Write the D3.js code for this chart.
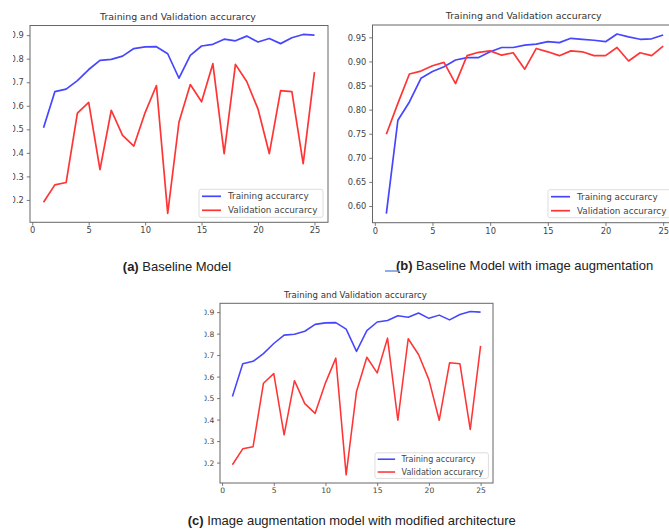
<!DOCTYPE html>
<html lang="en">
<head>
	<meta charset="UTF-8">
	<title>Training and Validation accurarcy</title>
	<script src="https://d3js.org/d3.v7.min.js"></script>
<style>
body { margin: 0; background: #fff; }
text { font-family: "DejaVu Sans", sans-serif; }
.caption { font-family: "Liberation Sans", Arial, sans-serif; fill: #222; }
</style>
</head>
<body>
<div id="divtest"></div>
<script>

// epochs 1..25
let epochs = d3.range(1, 26)

// baseline model (panel a, same figure reused in panel c)
let trainA = [0.507, 0.660, 0.671, 0.707, 0.754, 0.793, 0.797, 0.811, 0.843, 0.850,
              0.851, 0.821, 0.717, 0.814, 0.854, 0.861, 0.883, 0.876, 0.896, 0.871,
              0.886, 0.864, 0.889, 0.903, 0.900]
let valA = [0.190, 0.264, 0.274, 0.569, 0.614, 0.329, 0.581, 0.474, 0.429, 0.571,
            0.686, 0.143, 0.531, 0.690, 0.617, 0.779, 0.397, 0.776, 0.703, 0.586,
            0.397, 0.664, 0.660, 0.354, 0.743]

// baseline model with image augmentation (panel b)
let trainB = [0.584, 0.778, 0.816, 0.865, 0.879, 0.889, 0.903, 0.908, 0.908, 0.920,
              0.929, 0.929, 0.934, 0.936, 0.941, 0.939, 0.948, 0.946, 0.944, 0.941,
              0.957, 0.951, 0.946, 0.947, 0.955]
let valB = [0.749, 0.813, 0.874, 0.880, 0.891, 0.898, 0.854, 0.912, 0.919, 0.922,
            0.913, 0.918, 0.884, 0.927, 0.920, 0.912, 0.922, 0.920, 0.912, 0.912,
            0.929, 0.901, 0.918, 0.912, 0.932]

let xTicks = [0, 5, 10, 15, 20, 25]
let yTicksA = [0.2, 0.3, 0.4, 0.5, 0.6, 0.7, 0.8, 0.9]
let yTicksB = [0.60, 0.65, 0.70, 0.75, 0.80, 0.85, 0.90, 0.95]

let title = 'Training and Validation accurarcy'
let legendLabels = ['Training accurarcy', 'Validation accurarcy']
let captions = [
  ['(a)', ' Baseline Model'],
  ['(b)', ' Baseline Model with image augmentation'],
  ['(c)', ' Image augmentation model with modified architecture']
]

var blue = '#4646ff'
var red = '#ff3535'
var width = 669, height = 530

let svg = d3.select('#divtest').append('svg')
  .attr('width', width).attr('height', height)
  .style('display', 'block')

svg.append('rect').attr('width', width).attr('height', height).attr('fill', '#fff')

/**
* one matplotlib-like panel
*/
function drawPanel(p, id) {
  let s = p.scale
  let defs = svg.append('defs')
  defs.append('clipPath').attr('id', 'clip-' + id)
    .append('rect').attr('x', p.clipLeft).attr('y', 0).attr('width', width - p.clipLeft).attr('height', height)

  let g = svg.append('g').attr('clip-path', 'url(#clip-' + id + ')')

  // matplotlib autoscale: 5% margin
  let xExt = d3.extent(epochs)
  let xPad = (xExt[1] - xExt[0]) * 0.05
  let yExt = d3.extent(p.train.concat(p.val))
  let yPad = (yExt[1] - yExt[0]) * 0.05

  let x = d3.scaleLinear().domain([xExt[0] - xPad, xExt[1] + xPad]).range([p.left, p.right])
  let y = d3.scaleLinear().domain([yExt[0] - yPad, yExt[1] + yPad]).range([p.bottom, p.top])

  let line = d3.line()
    .x((d, i) => x(epochs[i]))
    .y(d => y(d))

  g.append('path').datum(p.train)
    .attr('fill', 'none').attr('stroke', blue).attr('stroke-width', 1.7 * s)
    .attr('stroke-linejoin', 'round').attr('d', line)
  g.append('path').datum(p.val)
    .attr('fill', 'none').attr('stroke', red).attr('stroke-width', 1.7 * s)
    .attr('stroke-linejoin', 'round').attr('d', line)

  // axes
  let fs = 8.3 * s
  let xAxis = g.append('g')
    .attr('transform', 'translate(0,' + p.bottom + ')')
    .call(d3.axisBottom(x).tickValues(xTicks).tickSize(3.2 * s).tickPadding(2 * s).tickFormat(d3.format('d')))
  let yAxis = g.append('g')
    .attr('transform', 'translate(' + p.left + ',0)')
    .call(d3.axisLeft(y).tickValues(p.yTicks).tickSize(3.2 * s).tickPadding(3 * s).tickFormat(d3.format(p.fmt)))
  ;[xAxis, yAxis].forEach(a => {
    a.select('.domain').remove()
    a.selectAll('line').attr('stroke', '#555').attr('stroke-width', 0.8)
    a.selectAll('text').attr('fill', '#444').style('font-size', fs + 'px')
      .style('font-family', '"DejaVu Sans", sans-serif')
  })

  // frame
  g.append('rect')
    .attr('x', p.left).attr('y', p.top)
    .attr('width', p.right - p.left).attr('height', p.bottom - p.top)
    .attr('fill', 'none').attr('stroke', '#666').attr('stroke-width', 1)

  // title
  g.append('text')
    .attr('x', (p.left + p.right) / 2 - 1).attr('y', p.top - 6 * s)
    .attr('text-anchor', 'middle').attr('fill', '#333')
    .style('font-size', (9.4 * s) + 'px')
    .text(title)

  // legend, lower right
  let lw = 124 * s, lh = 28 * s
  let lx = p.right - 5 * s - lw, ly = p.bottom - 5 * s - lh
  let leg = g.append('g').attr('transform', 'translate(' + lx + ',' + ly + ')')
  leg.append('rect').attr('width', lw).attr('height', lh).attr('rx', 2)
    .attr('fill', '#fff').attr('fill-opacity', 0.85).attr('stroke', '#d4d4d4').attr('stroke-width', 0.8)
  ;[blue, red].forEach((c, i) => {
    let yy = (7 + i * 14) * s
    leg.append('line').attr('x1', 3 * s).attr('x2', 22 * s).attr('y1', yy).attr('y2', yy)
      .attr('stroke', c).attr('stroke-width', 1.7 * s)
    leg.append('text').attr('x', 29 * s).attr('y', yy).attr('dy', '0.35em')
      .attr('fill', '#444').style('font-size', (8.8 * s) + 'px')
      .text(legendLabels[i])
  })

  // caption
  let cap = svg.append('text').attr('class', 'caption')
    .attr('x', p.capX).attr('y', p.capY).attr('text-anchor', 'middle')
    .style('font-size', '13px')
  cap.append('tspan').attr('font-weight', 'bold').text(p.caption[0])
  cap.append('tspan').text(p.caption[1])
}

let panels = [
  {left: 30, top: 25.5, right: 328, bottom: 222.3, scale: 1, clipLeft: 13,
   train: trainA, val: valA, yTicks: yTicksA, fmt: '.1f', caption: captions[0], capX: 177, capY: 270.5},
  {left: 372.5, top: 25, right: 677, bottom: 222.7, scale: 1, clipLeft: 335,
   train: trainB, val: valB, yTicks: yTicksB, fmt: '.2f', caption: captions[1], capX: 524.5, capY: 270},
  {left: 220, top: 303.3, right: 493, bottom: 483, scale: 0.915, clipLeft: 204.5,
   train: trainA, val: valA, yTicks: yTicksA, fmt: '.1f', caption: captions[2], capX: 351.7, capY: 525}
]

panels.forEach((p, i) => drawPanel(p, i))

// stray blue stroke before caption (b) in the source figure
svg.append('line').attr('x1', 385).attr('x2', 399).attr('y1', 271).attr('y2', 271)
  .attr('stroke', '#6b93dc').attr('stroke-width', 1.5)

</script>
</body>
</html>
